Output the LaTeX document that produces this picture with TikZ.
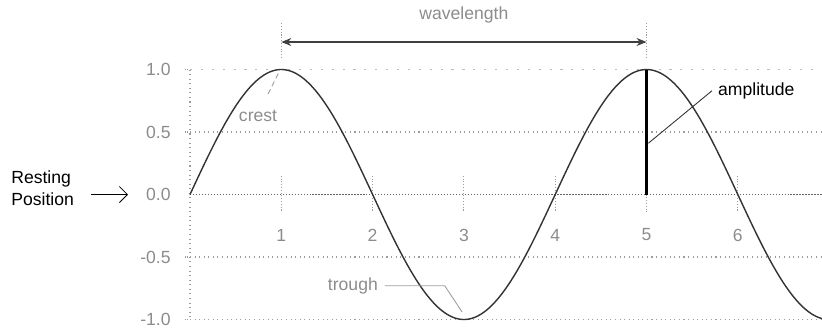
\documentclass[tikz,border=0pt]{standalone}
\usepackage{fontspec}
\setmainfont{Liberation Sans}
\usetikzlibrary{arrows.meta,positioning}
\definecolor{wavecol}{HTML}{333333}
\definecolor{gridcol}{HTML}{9C9C9C}
\definecolor{labelgray}{HTML}{8C8C8C}

\begin{document}
\begin{tikzpicture}[x=1.826cm,y=2.5cm,
  every node/.style={font=\fontsize{10}{12}\selectfont},
  gridln/.style={draw=gridcol,dotted,line width=0.6pt},
  baseln/.style={draw=black!60,densely dotted,line width=0.7pt},
  axtick/.style={draw=gridcol,densely dotted,line width=0.6pt},
  ylab/.style={labelgray,anchor=east,inner sep=1pt},
  xlab/.style={labelgray,inner sep=1pt},
  wave/.style={draw=wavecol,line width=0.8pt},
  ptr/.style={draw=black!80,line width=0.5pt},
  arr/.style={{Stealth[length=2mm,width=1.6mm]}-{Stealth[length=2mm,width=1.6mm]},
              black!75,line width=0.7pt},
  restarr/.style={-{Straight Barb[length=1.6mm,width=3.2mm]},line width=0.5pt}
]
\useasboundingbox (-2.081,-1.076) rectangle (6.922,1.556);

% Grid lines
\draw[gridcol!70,dash pattern=on 1.2pt off 5pt,line width=0.5pt] (0,1) -- (6.922,1);
\draw[gridln] (0,0.5) -- (6.922,0.5);
\draw[gridln] (0,-0.5) -- (6.922,-0.5);
\draw[gridln] (0,-1) -- (6.922,-1);
\draw[baseln] (0,0) -- (6.922,0);
\draw[gridln] (0,1) -- (0,-1);

% y axis labels and ticks
\node[ylab] (y10)  at (-0.190,1)    {1.0};
\node[ylab] (y05)  at (-0.190,0.5)  {0.5};
\node[ylab] (y00)  at (-0.190,0)    {0.0};
\node[ylab] (ym05) at (-0.190,-0.5) {-0.5};
\node[ylab] (ym10) at (-0.190,-1)   {-1.0};
\draw[axtick] (-0.06,1) -- (0,1);
\draw[axtick] (-0.06,0.5) -- (0,0.5);
\draw[axtick] (-0.06,-0.5) -- (0,-0.5);
\draw[axtick] (-0.06,-1) -- (0,-1);

% x axis ticks and labels
\draw[axtick] (1,0.15) -- (1,-0.14);
\draw[axtick] (2,0.15) -- (2,-0.14);
\draw[axtick] (3,0.15) -- (3,-0.14);
\draw[axtick] (4,0.15) -- (4,-0.14);
\draw[axtick] (5,0) -- (5,-0.14);
\draw[axtick] (6,0.15) -- (6,-0.14);
\node[xlab] (x1) at (1,-0.324) {1};
\node[xlab] (x2) at (2,-0.324) {2};
\node[xlab] (x3) at (3,-0.324) {3};
\node[xlab] (x4) at (4,-0.324) {4};
\node[xlab] (x5) at (5,-0.324) {5};
\node[xlab] (x6) at (6,-0.324) {6};

% Wave
\draw[wave] plot[domain=0:6.922,samples=240,smooth] (\x,{sin(90*\x)});

% Wavelength
\coordinate (wlL) at (1,1.22);
\coordinate (wlR) at (5,1.22);
\draw[axtick] (1,1.37) -- (1,1.09);
\draw[axtick] (5,1.37) -- (5,1.09);
\draw[arr] (wlL) -- (wlR);
\node[labelgray] (wl) at (3,1.436) {wavelength};

% Crest
\node[labelgray] (crest) at (0.745,0.628) {crest};
\coordinate (crestpt) at (0.975,0.98);
\draw[gridcol,densely dashed,line width=0.5pt] ([shift={(2mm,2mm)}]crest.north) -- (crestpt);

% Trough
\node[labelgray,anchor=east,inner sep=1pt] (trough) at (2.08,-0.73) {trough};
\coordinate (trA) at (2.79,-0.73);
\coordinate (trB) at (2.98,-0.94);
\draw[gridcol,line width=0.5pt] ([xshift=1mm]trough.east) -- (trA) -- (trB);

% Amplitude
\coordinate (ampbot) at (5,0);
\coordinate (amptop) at (5,1);
\draw[black,line width=1.2pt] (ampbot) -- (amptop);
\node[anchor=west] (amp) at (5.717,0.83) {amplitude};
\coordinate (amppt) at (5.02,0.41);
\draw[ptr] (amp.west) -- (amppt);

% Resting position
\node[align=left,anchor=east,inner sep=1pt] (rest) at (-1.249,0.05) {Resting\\Position};
\coordinate (restpt) at (-0.679,0);
\draw[restarr] (rest.east |- restpt) ++(3mm,0) -- (restpt);

\end{tikzpicture}
\end{document}
